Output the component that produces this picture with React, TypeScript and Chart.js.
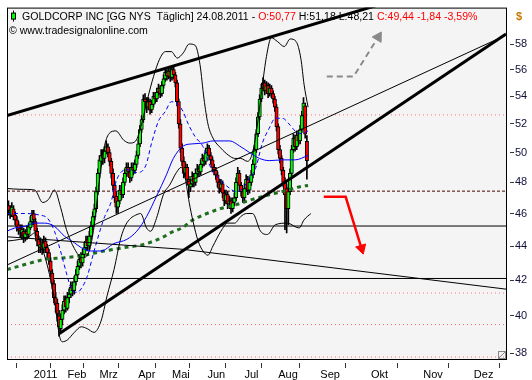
import { useEffect, useRef } from 'react';
import { Chart, registerables } from 'chart.js';

Chart.register(...registerables);

// ---- Data (trading-day index: 0 = first trading day of 2011) ----
const FIRST_DAY = -15;

const opens = [
  46.5, 46.1, 45.9, 46.3, 45.9, 45.6, 45.3, 45.1, 44.8, 44.9, 44.5, 44.9, 44.7, 45.1, 45.5,
  46.0, 45.5, 44.9, 44.4, 43.9, 44.2, 43.8, 44.3, 43.9, 43.6,
  43.1, 42.4, 41.8, 41.0, 40.7, 40.0, 39.3, 39.8, 40.3, 40.9,
  40.4, 41.0, 41.2, 41.7, 41.4, 41.9, 42.3, 42.8, 43.3, 43.0,
  43.5, 43.9, 44.4, 44.0, 44.6, 45.2, 45.8, 46.3, 47.4, 48.6,
  49.4, 49.9, 49.6, 50.1, 50.4, 50.0, 49.4, 48.6, 47.8, 47.1,
  46.4, 46.8, 47.5, 47.2, 48.0, 48.6, 49.0, 48.7, 48.3, 49.0,
  48.8, 49.2, 49.8, 50.6, 51.6, 52.3, 53.8, 53.6, 53.2, 53.6,
  53.0, 53.4, 54.0, 53.8, 54.3, 54.6, 54.2, 54.8, 55.3, 55.8,
  55.5, 55.9, 55.4, 56.0, 55.6, 55.0, 53.6, 52.0, 50.3, 49.4,
  48.6, 49.0, 48.2, 47.7, 47.9, 48.4, 48.0, 48.6, 48.9, 48.7,
  49.2, 49.6, 49.4, 50.0, 50.3, 49.8, 49.5, 49.0, 48.8, 48.5,
  48.0, 47.6, 47.9, 47.3, 46.8, 47.2, 46.6, 46.8, 46.3, 46.7,
  47.0, 48.0, 48.6, 47.8, 47.4, 47.0, 47.6, 48.2, 47.5, 48.0,
  48.5, 49.2, 50.2, 51.3, 52.5, 53.8, 54.6, 55.0, 54.4, 54.8,
  54.2, 54.6, 54.2, 53.8, 53.2, 51.8, 50.2, 49.6, 48.8, 48.0,
  47.6, 46.3, 47.4, 48.6, 50.2, 51.0, 50.4, 51.2, 50.8, 51.6,
  52.6, 53.3, 50.77,
];
const highs = [
  46.8, 46.5, 46.7, 46.5, 46.1, 45.8, 45.5, 45.3, 45.3, 45.1, 45.0, 45.2, 45.4, 45.8, 46.2,
  46.2, 45.7, 45.1, 44.6, 44.5, 44.4, 44.6, 44.5, 44.1, 43.8,
  43.3, 42.6, 42.0, 41.3, 40.9, 40.3, 40.1, 40.6, 41.1, 41.1,
  41.3, 41.5, 41.9, 41.9, 42.2, 42.6, 43.1, 43.5, 43.6, 43.8,
  44.2, 44.6, 44.6, 44.9, 45.5, 46.1, 46.6, 47.7, 48.9, 49.8,
  50.2, 50.2, 50.4, 50.8, 50.6, 50.2, 49.6, 48.9, 48.1, 47.4,
  47.1, 47.8, 47.8, 48.3, 48.9, 49.3, 49.3, 48.9, 49.3, 49.3,
  49.5, 50.1, 50.9, 51.9, 52.6, 54.1, 54.2, 53.9, 53.9, 53.8,
  53.7, 54.3, 54.3, 54.6, 54.9, 54.8, 55.1, 55.6, 56.1, 56.0,
  56.2, 56.1, 56.3, 56.2, 55.8, 55.2, 53.8, 52.3, 50.6, 49.7,
  49.3, 49.2, 48.4, 48.2, 48.7, 48.6, 48.9, 49.2, 49.1, 49.5,
  49.9, 49.8, 50.3, 50.6, 50.5, 50.0, 49.7, 49.2, 49.0, 48.7,
  48.2, 48.2, 48.1, 47.5, 47.5, 47.4, 47.1, 47.0, 47.0, 47.3,
  48.3, 49.0, 48.8, 48.0, 47.6, 47.9, 48.5, 48.4, 48.3, 48.8,
  49.5, 50.5, 51.6, 52.8, 54.1, 54.9, 55.4, 55.2, 55.1, 55.0,
  54.9, 54.8, 54.4, 54.0, 53.4, 52.0, 50.5, 49.8, 49.0, 48.3,
  47.9, 47.7, 48.9, 50.5, 51.3, 51.2, 51.5, 51.4, 51.9, 52.9,
  53.9, 53.5, 51.18,
];
const lows = [
  45.9, 45.7, 45.8, 45.6, 45.3, 44.9, 44.7, 44.5, 44.4, 44.2, 44.3, 44.4, 44.5, 45.0, 45.3,
  45.3, 44.6, 44.0, 43.6, 43.6, 43.5, 43.6, 43.6, 43.3, 42.9,
  42.2, 41.5, 40.7, 40.2, 39.7, 38.9, 39.1, 39.5, 40.1, 40.2,
  40.3, 40.7, 41.0, 41.1, 41.2, 41.7, 42.1, 42.6, 42.7, 42.8,
  43.3, 43.7, 43.7, 43.8, 44.4, 45.0, 45.6, 46.1, 47.2, 48.3,
  49.1, 49.2, 49.3, 49.9, 49.7, 49.1, 48.3, 47.5, 46.7, 46.0,
  46.0, 46.6, 46.9, 47.0, 47.8, 48.4, 48.4, 48.0, 48.1, 48.5,
  48.6, 49.0, 49.6, 50.4, 51.4, 52.1, 53.2, 52.8, 53.0, 52.7,
  52.8, 53.2, 53.5, 53.6, 54.1, 53.9, 54.0, 54.6, 55.1, 55.2,
  55.3, 55.1, 55.2, 55.3, 54.7, 53.3, 51.7, 50.0, 49.1, 48.3,
  48.4, 47.9, 47.0, 47.4, 47.7, 47.7, 47.8, 48.4, 48.4, 48.5,
  49.0, 49.1, 49.2, 49.8, 49.5, 49.2, 48.7, 48.5, 48.2, 47.7,
  47.3, 47.4, 47.0, 46.5, 46.6, 46.3, 46.4, 46.0, 46.1, 46.5,
  46.8, 47.8, 47.5, 47.1, 46.7, 46.8, 47.4, 47.2, 47.3, 47.8,
  48.3, 49.0, 50.0, 51.1, 52.3, 53.6, 54.4, 54.1, 54.2, 53.9,
  54.0, 53.9, 53.5, 52.9, 51.5, 49.9, 49.3, 48.5, 47.7, 45.0,
  44.8, 45.3, 47.2, 48.4, 50.0, 50.1, 50.2, 50.5, 50.6, 51.4,
  52.4, 51.0, 48.21,
];
const closes = [
  46.2, 46.0, 46.4, 45.8, 45.6, 45.2, 45.0, 44.9, 45.0, 44.6, 44.8, 44.7, 45.2, 45.5, 45.9,
  45.6, 44.9, 44.3, 44.0, 44.1, 43.8, 44.2, 43.9, 43.6, 43.2,
  42.5, 41.8, 41.0, 40.6, 40.1, 39.4, 39.8, 40.3, 40.8, 40.5,
  41.0, 41.2, 41.6, 41.4, 41.9, 42.3, 42.8, 43.2, 43.0, 43.5,
  43.9, 44.3, 44.0, 44.6, 45.2, 45.8, 46.3, 47.4, 48.6, 49.5,
  49.8, 49.6, 50.1, 50.4, 50.0, 49.4, 48.6, 47.8, 47.0, 46.4,
  46.8, 47.5, 47.2, 48.0, 48.6, 49.0, 48.7, 48.3, 49.0, 48.8,
  49.2, 49.8, 50.6, 51.6, 52.3, 53.8, 53.6, 53.2, 53.6, 53.0,
  53.4, 54.0, 53.8, 54.3, 54.6, 54.2, 54.8, 55.3, 55.8, 55.5,
  55.9, 55.4, 56.0, 55.6, 55.0, 53.6, 52.0, 50.3, 49.4, 48.6,
  49.0, 48.2, 47.8, 47.9, 48.4, 48.0, 48.6, 48.9, 48.7, 49.2,
  49.6, 49.4, 50.0, 50.3, 49.8, 49.5, 49.0, 48.8, 48.5, 48.0,
  47.6, 47.9, 47.3, 46.8, 47.2, 46.6, 46.8, 46.3, 46.7, 47.0,
  48.0, 48.6, 47.8, 47.4, 47.0, 47.6, 48.2, 47.5, 48.0, 48.5,
  49.2, 50.2, 51.3, 52.5, 53.8, 54.6, 55.0, 54.4, 54.8, 54.2,
  54.6, 54.2, 53.8, 53.2, 51.8, 50.2, 49.6, 48.8, 48.0, 47.2,
  46.3, 47.4, 48.6, 50.2, 51.0, 50.4, 51.2, 50.8, 51.6, 52.6,
  53.5, 51.28, 49.44,
];

// Indicator readings [day index, price]
const bbUpper: [number, number][] = [
  [-15.9, 47.6], [-8.2, 47.55], [0.6, 47.5], [5.3, 46.7], [8.8, 46.9], [12.3, 47.5], [15.9, 46.4],
  [19.4, 45.0], [24.1, 43.85], [28.8, 43.3], [32.9, 43.7], [35.8, 45.2], [38.8, 48.0], [41.7, 50.3],
  [44.6, 51.3], [48.7, 51.5], [53.4, 50.85], [57.0, 50.65], [60.5, 50.8], [64.0, 52.0], [67.5, 53.8],
  [71.1, 55.5], [74.6, 56.8], [78.1, 57.4], [81.6, 57.4], [85.1, 56.9], [88.7, 57.3], [92.2, 58.0],
  [95.7, 57.9], [98.6, 56.4], [101.0, 53.8], [103.3, 52.0], [106.3, 51.0], [111.0, 50.3], [115.7, 49.8],
  [119.2, 49.6], [122.7, 49.6], [126.8, 49.4], [129.8, 50.0], [132.7, 52.0], [135.6, 54.8], [138.0, 57.0],
  [140.9, 58.5], [144.5, 58.2], [148.6, 57.8], [152.1, 58.4], [155.6, 58.2], [158.5, 56.8], [160.3, 54.9],
  [162.7, 53.2],
];
const bbLower: [number, number][] = [
  [-15.9, 44.3], [-8.2, 44.4], [-2.3, 44.6], [0.6, 44.8], [3.5, 44.3], [6.5, 43.4], [9.4, 42.3],
  [12.3, 40.9], [15.3, 38.9], [17.0, 38.6], [20.0, 38.7], [24.1, 39.1], [28.2, 39.4], [31.7, 39.3],
  [35.8, 39.1], [39.9, 39.7], [43.5, 41.1], [47.6, 42.6], [51.7, 44.5], [54.6, 45.3], [57.5, 45.7],
  [60.5, 45.9], [63.4, 46.0], [66.9, 45.1], [69.3, 44.9], [72.8, 45.7], [76.9, 47.2], [81.0, 47.9],
  [84.6, 48.65], [87.5, 49.0], [89.8, 48.3], [92.2, 46.7], [94.5, 45.5], [97.5, 44.3], [100.4, 43.7],
  [103.3, 43.45], [106.3, 44.0], [111.0, 44.9], [115.1, 45.4], [119.2, 45.4], [122.7, 45.8], [126.2, 46.0],
  [129.8, 46.0], [134.5, 44.9], [138.6, 44.7], [143.3, 45.3], [150.3, 45.4], [157.4, 45.1], [160.3, 45.6],
  [164.4, 46.0],
];
const bbMiddle: [number, number][] = [
  [-15.9, 46.0], [-5.3, 46.0], [3.5, 45.9], [8.2, 45.7], [12.3, 44.9], [15.9, 43.7], [19.4, 42.4],
  [22.3, 41.5], [25.8, 41.3], [28.8, 41.6], [31.7, 42.2], [35.8, 43.7], [41.7, 45.7], [45.8, 46.7],
  [49.3, 48.2], [55.2, 48.85], [61.1, 48.65], [66.4, 49.1], [69.9, 50.65], [74.0, 52.2], [78.1, 52.9],
  [81.6, 53.6], [85.7, 53.4], [88.7, 52.85], [91.6, 52.0], [95.7, 51.1], [100.4, 50.4], [104.5, 49.1],
  [108.0, 48.5], [112.2, 48.0], [116.3, 47.6], [119.8, 47.4], [123.9, 47.6], [128.0, 48.3], [131.5, 48.9],
  [135.6, 50.65], [139.7, 51.7], [143.3, 52.4], [147.4, 52.4], [152.1, 51.9], [155.0, 51.5], [159.1, 51.3],
  [162.7, 51.5],
];
const ma50: [number, number][] = [
  [-15.9, 44.9], [-11.2, 45.1], [-5.3, 45.2], [0.6, 45.4], [6.5, 45.4], [12.3, 45.2], [18.2, 44.6],
  [24.1, 44.2], [28.2, 43.9], [34.1, 43.7], [39.9, 43.7], [47.6, 44.15], [55.2, 44.4], [61.1, 44.9],
  [66.9, 45.8], [72.8, 47.1], [78.7, 48.5], [82.8, 49.6], [88.7, 50.45], [94.5, 50.6], [100.4, 50.65],
  [106.3, 50.8], [116.3, 50.8], [122.1, 50.45], [128.0, 50.0], [133.9, 49.6], [139.7, 49.45],
  [147.4, 49.5], [155.0, 49.5], [162.7, 49.8],
];
const ma200: [number, number][] = [
  [-15.9, 42.6], [-5.3, 42.9], [6.5, 43.2], [18.2, 43.3], [29.9, 43.45], [41.7, 43.7], [53.4, 43.9],
  [65.2, 44.1], [76.9, 44.55], [81.0, 44.8], [88.7, 45.15], [92.8, 45.5], [100.4, 45.9], [110.4, 46.3],
  [119.8, 46.55], [129.8, 46.9], [139.7, 47.2], [149.1, 47.45], [159.1, 47.75], [162.7, 47.8],
];

// Drawn trend lines [day index, price]
const upperTrendThick: [number, number][] = [[-15.9, 52.6], [219, 61.8]];
const lowerTrendThick: [number, number][] = [[15.27, 39.04], [280.1, 58.79]];
const channelThin: [number, number][] = [[-15.9, 42.87], [280.1, 58.71]];
const fallingThin: [number, number][] = [[-15.9, 44.56], [88.7, 43.8], [159.1, 42.93], [280.1, 41.48]];
const redArrow: [number, number][] = [[172.0, 47.06], [185.0, 47.06], [194.4, 43.86]];
const grayArrow: [number, number][] = [[173.8, 55.48], [189.7, 55.48], [204.3, 58.55]];

const dashedLevel = 47.43;
const solidLevels = [45.22, 42.09];
const dottedLevels = [52.64, 41.26, 39.52, 37.8];

const monthTicks = [0, 20, 39, 62, 82, 103, 125, 145, 170, 200, 231, 261];
const monthLabels = ['2011', 'Feb', 'Mrz', 'Apr', 'Mai', 'Jun', 'Jul', 'Aug', 'Sep', 'Okt', 'Nov', 'Dez'];
const priceTicks = [38, 40, 42, 44, 46, 48, 50, 52, 54, 56, 58];

const X_MIN = -15.85;
const X_MAX = 280.68;
const Y_MIN = 37.65;
const Y_MAX = 60.96;

const headerParts: [string, string][] = [
  ['GOLDCORP INC [GG NYS  Täglich] 24.08.2011 - ', '#000000'],
  ['O:50,77 ', '#ff0000'],
  ['H:51,18 L:48,21 ', '#000000'],
  ['C:49,44 -1,84 -3,59%', '#ff0000'],
];
const copyright = '© www.tradesignalonline.com';

const FONT = '"Liberation Sans", Arial, sans-serif';

const decorPlugin = {
  id: 'decor',
  beforeDraw(chart: any) {
    const { ctx, chartArea: a } = chart;
    ctx.save();
    ctx.fillStyle = '#f4f4f4';
    ctx.fillRect(a.left, a.top, a.right - a.left, a.bottom - a.top);
    ctx.restore();
  },
  afterDraw(chart: any) {
    const { ctx, chartArea: a } = chart;
    ctx.save();
    ctx.strokeStyle = '#000';
    ctx.lineWidth = 1;
    ctx.strokeRect(a.left + 0.5, a.top + 0.5, a.right - a.left - 1, a.bottom - a.top - 1);

    // header line
    ctx.font = `11px ${FONT}`;
    const full = headerParts.map((p) => p[0]).join('');
    const w = ctx.measureText(full).width;
    const size = Math.max(9, Math.min(13, (11 * 456) / w));
    ctx.font = `${size.toFixed(2)}px ${FONT}`;
    ctx.textBaseline = 'alphabetic';
    let x = a.left + 15;
    const y = a.top + 12;
    for (const [t, c] of headerParts) {
      ctx.fillStyle = c;
      ctx.fillText(t, x, y);
      x += ctx.measureText(t).width;
    }
    ctx.fillStyle = '#000';
    ctx.fillText(copyright, a.left + 2, a.top + 26);

    // little candle icon
    ctx.fillStyle = '#000';
    ctx.fillRect(a.left + 6, a.top + 3, 1, 11);
    ctx.fillStyle = '#00ff00';
    ctx.fillRect(a.left + 4.5, a.top + 5.5, 4, 6);
    ctx.strokeStyle = '#000';
    ctx.strokeRect(a.left + 4.5, a.top + 5.5, 4, 6);

    // currency sign
    ctx.fillStyle = '#c87800';
    ctx.font = `bold 11px ${FONT}`;
    ctx.fillText('$', a.right + 9, a.top + 12);

    // small resize mark at the bottom-right corner
    ctx.strokeStyle = '#888';
    ctx.strokeRect(a.right - 8.5, a.bottom - 8.5, 7, 7);
    ctx.beginPath();
    ctx.moveTo(a.right - 8, a.bottom - 2);
    ctx.lineTo(a.right - 2, a.bottom - 8);
    ctx.stroke();
    ctx.restore();
  },
};

function pts(p: [number, number][]) {
  return p.map(([x, y]) => ({ x, y }));
}

function lineDs(data: [number, number][], color: string, width: number, dash: number[], order: number, extra: any = {}) {
  return {
    type: 'line',
    data: pts(data),
    borderColor: color,
    backgroundColor: color,
    borderWidth: width,
    borderDash: dash,
    pointRadius: 0,
    fill: false,
    tension: 0,
    order,
    ...extra,
  };
}

function levelDs(v: number, color: string, width: number, dash: number[], order: number) {
  return lineDs([[X_MIN, v], [X_MAX, v]], color, width, dash, order);
}

export default function App() {
  const ref = useRef<HTMLCanvasElement>(null);

  useEffect(() => {
    if (!ref.current) return;
    const days = closes.map((_, i) => FIRST_DAY + i);
    const wicks = days.map((d, i) => ({ x: d, y: [lows[i], highs[i]] }));
    const bodies = days.map((d, i) => ({ x: d, y: [opens[i], closes[i]] }));
    const bodyColors = closes.map((c, i) => (c >= opens[i] ? '#00ff00' : '#ff0000'));

    const smooth = { cubicInterpolationMode: 'monotone' };

    const datasets: any[] = [
      ...dottedLevels.map((v) => levelDs(v, '#ff7070', 1, [1, 3], 40)),
      levelDs(dashedLevel, '#4a0000', 1, [3, 2], 39),
      ...solidLevels.map((v) => levelDs(v, '#000000', 1, [], 38)),
      {
        type: 'bar',
        data: wicks,
        backgroundColor: '#000',
        barThickness: 1,
        grouped: false,
        order: 31,
      },
      {
        type: 'bar',
        data: bodies,
        backgroundColor: bodyColors,
        borderColor: '#000',
        borderWidth: 1,
        borderSkipped: false,
        barThickness: 3.4,
        grouped: false,
        order: 30,
      },
      lineDs(ma200, '#1f6e1f', 3, [4, 4], 20, smooth),
      lineDs(bbUpper, '#000000', 1, [], 19, smooth),
      lineDs(bbLower, '#000000', 1, [], 18, smooth),
      lineDs(ma50, '#0000ff', 1, [], 17, smooth),
      lineDs(bbMiddle, '#0000ff', 1, [4, 3], 16, smooth),
      lineDs(fallingThin, '#000000', 1, [], 10),
      lineDs(channelThin, '#000000', 1, [], 9),
      lineDs(upperTrendThick, '#000000', 3, [], 8),
      lineDs(lowerTrendThick, '#000000', 3, [], 7),
      lineDs(redArrow, '#ff0000', 2.5, [], 2, {
        pointRadius: [0, 0, 6],
        pointStyle: 'triangle',
        pointRotation: [0, 0, 163],
        pointBackgroundColor: '#ff0000',
        pointBorderColor: '#ff0000',
        pointBorderWidth: 1,
      }),
      lineDs(grayArrow, '#8a8a8a', 2, [6, 4], 1, {
        pointRadius: [0, 0, 6],
        pointStyle: 'triangle',
        pointRotation: [0, 0, 31],
        pointBackgroundColor: '#8a8a8a',
        pointBorderColor: '#8a8a8a',
        pointBorderWidth: 1,
      }),
    ];

    const chart = new Chart(ref.current, {
      type: 'bar',
      data: { datasets },
      options: {
        animation: false,
        responsive: false,
        devicePixelRatio: 1,
        maintainAspectRatio: false,
        layout: { padding: { left: 2, top: 1, right: 0, bottom: 0 } },
        plugins: { legend: { display: false }, tooltip: { enabled: false } },
        events: [],
        scales: {
          x: {
            type: 'linear',
            min: X_MIN,
            max: X_MAX,
            offset: false,
            border: { display: false },
            grid: {
              drawOnChartArea: false,
              drawTicks: true,
              tickLength: 8,
              tickColor: '#333',
              tickBorderDash: [0, 3, 5, 40],
            },
            ticks: {
              autoSkip: false,
              maxRotation: 0,
              minRotation: 0,
              align: 'start',
              padding: 0,
              color: '#000',
              font: { family: FONT, size: 11 },
              callback: (v: any) => {
                const k = monthTicks.indexOf(Number(v));
                return k >= 0 ? monthLabels[k] : '';
              },
            },
            afterBuildTicks: (s: any) => {
              s.ticks = monthTicks.map((v) => ({ value: v }));
            },
            afterFit: (s: any) => {
              s.height = 20;
            },
          },
          y: {
            type: 'logarithmic',
            position: 'right',
            min: Y_MIN,
            max: Y_MAX,
            border: { display: false },
            grid: {
              drawOnChartArea: false,
              drawTicks: true,
              tickLength: 7,
              tickColor: '#333',
              tickBorderDash: [0, 3, 4, 40],
            },
            ticks: {
              padding: 1,
              color: '#10103a',
              font: { family: FONT, size: 11 },
              callback: (v: any) => String(v),
            },
            afterBuildTicks: (s: any) => {
              s.ticks = priceTicks.map((v) => ({ value: v }));
            },
            afterFit: (s: any) => {
              s.width = 25;
            },
          },
        },
      } as any,
      plugins: [decorPlugin],
    } as any);

    return () => chart.destroy();
  }, []);

  return (
    <div style={{ position: 'absolute', left: 0, top: 0, width: 532, height: 380, background: '#fff' }}>
      <canvas ref={ref} width={532} height={380} style={{ display: 'block' }} />
    </div>
  );
}
